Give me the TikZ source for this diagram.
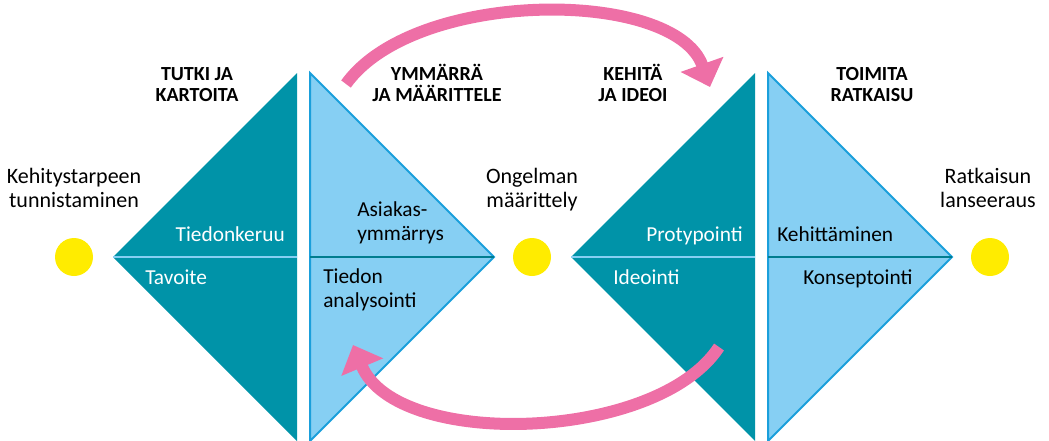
\documentclass[tikz,border=0pt]{standalone}
\usepackage{fontspec}
\setmainfont{Carlito}
\usetikzlibrary{arrows.meta}
\definecolor{tealdark}{HTML}{0093A8}
\definecolor{skylight}{HTML}{86CFF3}
\definecolor{skyline}{HTML}{1A9FDB}
\definecolor{loopink}{HTML}{EE6FA6}
\definecolor{sunyellow}{HTML}{FFEC00}

\begin{document}
\begin{tikzpicture}[x=0.75pt, y=-0.75pt, line join=miter,
    darktri/.style={fill=tealdark},
    lighttri/.style={fill=skylight, draw=skyline, line width=1.5pt},
    darkcut/.style={draw=skylight, line width=1.5pt},
    lightcut/.style={draw=tealdark!85!black, line width=1.5pt},
    sun/.style={circle, fill=sunyellow, minimum size=28.5pt, inner sep=0pt},
    milestone/.style={align=center, inner sep=0pt, anchor=base,
      font=\fontsize{16.5}{17.5}\selectfont},
    phase/.style={align=center, inner sep=0pt, anchor=base,
      font=\fontsize{15}{15.75}\selectfont\bfseries},
    stepwhite/.style={inner sep=0pt, text=white, align=left,
      font=\fontsize{16}{17.3}\selectfont},
    stepblack/.style={inner sep=0pt, text=black, align=left,
      font=\fontsize{16}{17.3}\selectfont},
    loop/.style={draw=loopink, line width=9pt, line cap=butt,
      -{Triangle[width=33pt, length=18pt]}}]
  % Parameters
  \pgfmathsetmacro{\ymid}{257}
  \pgfmathsetmacro{\h}{184}
  \useasboundingbox (0,0) rectangle (1049,440);

  % Diamonds: two triangles each
  \fill[darktri] (297,\ymid-\h) -- (297,\ymid+\h) -- (297-\h,\ymid) -- cycle;
  \draw[lighttri] (310,\ymid-\h) -- (310,\ymid+\h) -- (310+\h,\ymid) -- cycle;
  \fill[darktri] (755,\ymid-\h) -- (755,\ymid+\h) -- (755-\h,\ymid) -- cycle;
  \draw[lighttri] (768,\ymid-\h) -- (768,\ymid+\h) -- (768+\h,\ymid) -- cycle;

  % Middle cuts
  \draw[darkcut] (297-\h,\ymid) -- (297,\ymid);
  \draw[lightcut] (310,\ymid) -- (310+\h,\ymid);
  \draw[darkcut] (755-\h,\ymid) -- (755,\ymid);
  \draw[lightcut] (768,\ymid) -- (768+\h,\ymid);

  % Milestones (base = last line)
  \node[sun] (start) at (74,\ymid) {};
  \node[sun] (problem) at (532,\ymid) {};
  \node[sun] (launch) at (990,\ymid) {};
  \node[milestone] (startlbl) at (74,207) {Kehitystarpeen\\tunnistaminen};
  \node[milestone] (problemlbl) at (532,207) {Ongelman\\määrittely};
  \node[milestone] (launchlbl) at (988,207) {Ratkaisun\\lanseeraus};

  % Phase titles
  \node[phase] (explore) at (197,101) {TUTKI JA\\KARTOITA};
  \node[phase] (define) at (437,101) {YMMÄRRÄ\\JA MÄÄRITTELE};
  \node[phase] (ideate) at (633,101) {KEHITÄ\\JA IDEOI};
  \node[phase] (deliver) at (872,101) {TOIMITA\\RATKAISU};

  % Steps inside the triangles
  \node[stepwhite, anchor=base east] (collect) at (285,241) {Tiedonkeruu};
  \node[stepwhite, anchor=base west] (goal) at (145,284) {Tavoite};
  \node[stepblack, anchor=base west] (insight) at (357,240) {Asiakas-\\ymmärrys};
  \node[stepblack, anchor=base west] (analysis) at (323,307) {Tiedon\\analysointi};
  \node[stepwhite, anchor=base east] (proto) at (743,241) {Protypointi};
  \node[stepwhite, anchor=base west] (ideas) at (613,284) {Ideointi};
  \node[stepblack, anchor=base west] (develop) at (777,241) {Kehittäminen};
  \node[stepblack, anchor=base west] (concept) at (803,284) {Konseptointi};

  % Iteration loops
  \coordinate (topfrom) at (346,84);
  \coordinate (topto) at (710,87);
  \coordinate (botfrom) at (719,347);
  \coordinate (botto) at (353,345);
  \draw[loop] (topfrom) .. controls (415,-12) and (675,-12) .. (topto);
  \draw[loop] (botfrom) .. controls (657,442) and (397,450) .. (botto);
\end{tikzpicture}
\end{document}
